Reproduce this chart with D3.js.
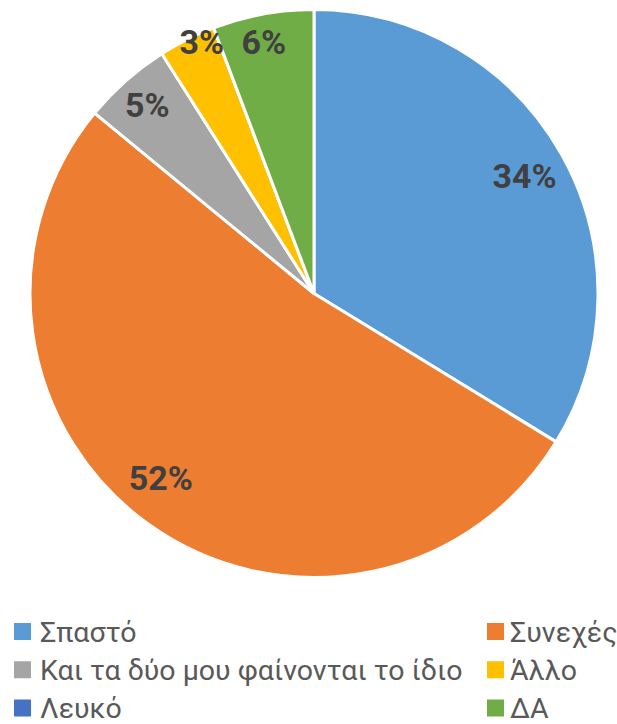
<!DOCTYPE html>
<html>
<head>
<meta charset="utf-8">
<script src="https://d3js.org/d3.v7.min.js"></script>
<style>
  body { margin: 0; background: #fff; }
  .lbl { font-family: Roboto, "Open Sans", sans-serif; font-weight: bold; fill: #404040; }
  .leg { font-family: Roboto, "Noto Sans", sans-serif; fill: #595959; }
</style>
</head>
<body>
<script>
var categories = ["Σπαστό", "Συνεχές", "Και τα δύο μου φαίνονται το ίδιο", "Άλλο", "Λευκό", "ΔΑ"];
var values = [33.75, 52.2, 5.05, 3.25, 0, 5.75];
var colors = ["#5B9BD5", "#ED7D31", "#A5A5A5", "#FFC000", "#4472C4", "#70AD47"];
// label placement: share of the radius, then a small nudge (best-fit style)
var labelPos = [0.85, 0.845, 0.886, 0.97, 0.9, 0.903];
var labelDx = [0, -14, 0, 11, 0, -4];
var labelDy = [0, -11, 0, -5, 0, 1];

var w = 617, h = 724;
var cx = 314, cy = 293.5, r = 284;

var svg = d3.select("body").append("svg")
    .attr("width", w)
    .attr("height", h);

var data = categories.map(function (c, i) { return { name: c, value: values[i], i: i }; });

var pie = d3.pie()
    .sort(null)
    .value(function (d) { return d.value; });

var arc = d3.arc().innerRadius(0).outerRadius(r);

var g = svg.append("g").attr("transform", "translate(" + cx + "," + cy + ")");

var arcs = pie(data);

g.selectAll("path.slice")
    .data(arcs)
    .enter()
    .append("path")
    .attr("class", "slice")
    .attr("d", arc)
    .attr("fill", function (d) { return colors[d.data.i]; })
    .attr("stroke", "#fff")
    .attr("stroke-width", 3)
    .attr("stroke-linejoin", "round");

g.selectAll("text.lbl")
    .data(arcs.filter(function (d) { return d.data.value > 0; }))
    .enter()
    .append("text")
    .attr("class", "lbl")
    .attr("font-size", 34)
    .attr("text-anchor", "middle")
    .attr("dy", "0.36em")
    .attr("transform", function (d) {
        var lr = r * labelPos[d.data.i];
        var c = d3.arc().innerRadius(lr).outerRadius(lr).centroid(d);
        return "translate(" + (c[0] + labelDx[d.data.i]) + "," + (c[1] + labelDy[d.data.i]) + ")";
    })
    .text(function (d) { return Math.round(d.data.value) + "%"; });

// legend: two columns, three rows
var colX = d3.scaleOrdinal().domain([0, 1]).range([14, 487]);
var rowY = d3.scalePoint().domain([0, 1, 2]).range([631.5, 708]);
var sq = 17;

var leg = svg.selectAll("g.legitem")
    .data(data)
    .enter()
    .append("g")
    .attr("class", "legitem")
    .attr("transform", function (d) {
        return "translate(" + colX(d.i % 2) + "," + rowY(Math.floor(d.i / 2)) + ")";
    });

leg.append("rect")
    .attr("x", 0)
    .attr("y", -sq / 2)
    .attr("width", sq)
    .attr("height", sq)
    .attr("fill", function (d) { return colors[d.i]; });

leg.append("text")
    .attr("class", "leg")
    .attr("x", function (d) { return d.i % 2 ? 23 : 26; })
    .attr("dy", "0.36em")
    .attr("font-size", 28.5)
    .text(function (d) { return d.name; });
</script>
</body>
</html>
